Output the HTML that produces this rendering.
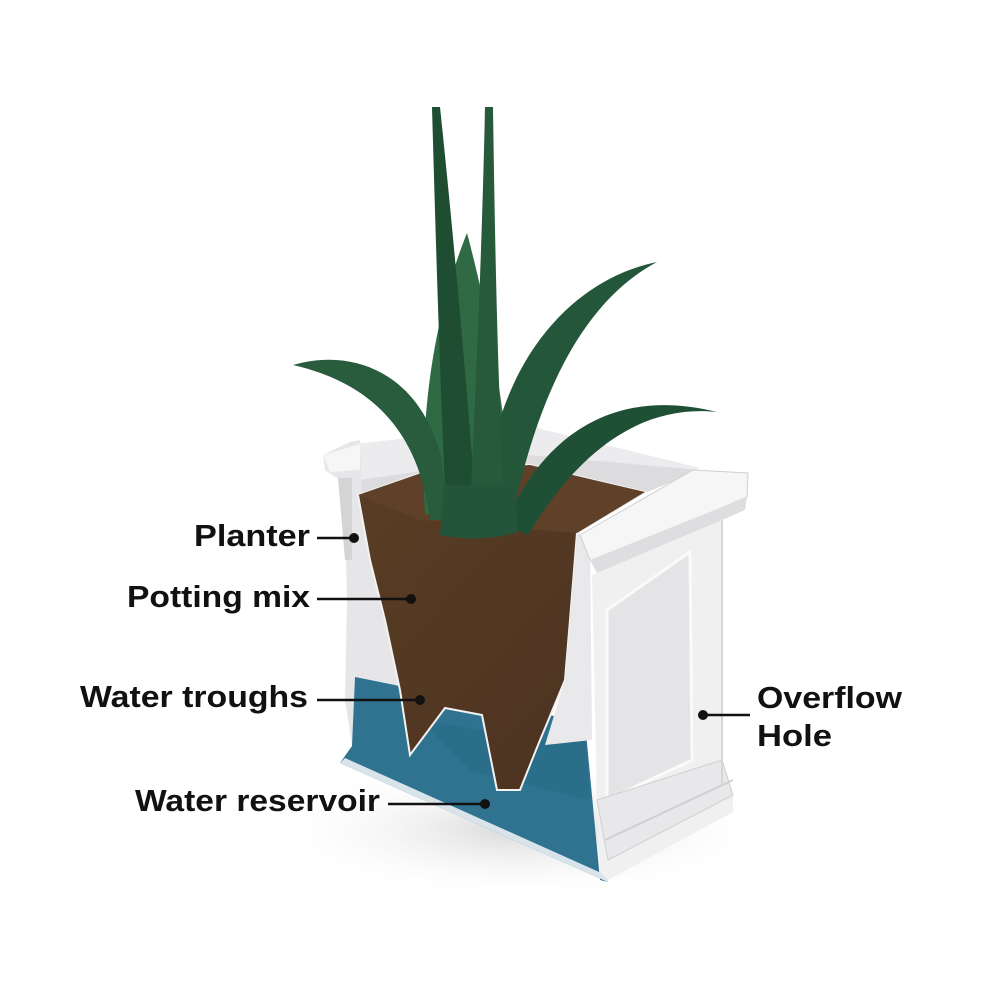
<!DOCTYPE html>
<html><head><meta charset="utf-8"><style>
html,body{margin:0;padding:0;background:#fff;}
svg{display:block}
text{font-family:"Liberation Sans",sans-serif;font-weight:bold;font-size:31px;fill:#111}
</style></head><body>
<svg width="1000" height="1000" viewBox="0 0 1000 1000" xmlns="http://www.w3.org/2000/svg">
<defs>
<linearGradient id="soil" x1="0" y1="0" x2="1" y2="1"><stop offset="0" stop-color="#5a3d24"/><stop offset="1" stop-color="#4a3220"/></linearGradient>
<radialGradient id="shadow" cx="0.5" cy="0.5" r="0.5"><stop offset="0" stop-color="#d8d8d8"/><stop offset="1" stop-color="#fff" stop-opacity="0"/></radialGradient>
</defs>
<ellipse cx="520" cy="830" rx="260" ry="70" fill="url(#shadow)"/>
<polygon points="345,445 525,425 700,468 645,492 530,468 360,495" fill="#ececee"/>
<polygon points="360,480 530,455 700,470 640,495 530,466 362,497" fill="#dcdcde"/>
<polygon points="323,455 350,442 360,440 362,498 372,560 385,620 400,680 352,745 345,700 347,600 345,520 340,480 325,470" fill="#e6e6e8"/>
<polygon points="323,455 360,444 360,470 330,472" fill="#f6f6f7"/>
<polygon points="338,478 352,478 352,560 345,560" fill="#d4d4d6"/>
<polygon points="355,677 420,690 585,722 600,880 608,882 340,763 352,746" fill="#2f7391"/>
<polygon points="340,763 608,882 608,876 345,758" fill="#d8e4ea"/>
<polygon points="420,720 540,740 585,730 590,800 470,770" fill="#2a6a86" opacity="0.6"/>
<polygon points="358,495 430,470 530,465 645,492 577,533 570,620 565,680 538,745 520,790 497,790 482,715 445,708 410,755 400,690 385,620 370,560" fill="url(#soil)" stroke="#f2f2f2" stroke-width="2"/>
<polygon points="358,495 430,470 530,465 645,492 577,533 420,520" fill="#5e4128"/>
<polygon points="577,533 590,540 592,740 545,745 565,680 570,620" fill="#e9e9eb"/>
<polygon points="580,535 693,470 748,473 747,497 600,560 590,560" fill="#f6f6f7" stroke="#d0d0d2" stroke-width="1"/>
<polygon points="590,560 747,497 745,510 598,575" fill="#dedee0"/>
<polygon points="592,575 722,520 722,785 733,795 733,812 608,880 600,872 597,800" fill="#f0f0f1"/>
<polygon points="607,610 690,552 692,760 607,800" fill="#e4e4e6" stroke="#fafafa" stroke-width="3"/>
<polygon points="597,800 722,760 733,795 608,860" fill="#e8e8ea" stroke="#cfcfd1" stroke-width="1"/>
<line x1="605" y1="840" x2="733" y2="780" stroke="#cfcfd1" stroke-width="2"/>
<line x1="722" y1="520" x2="722" y2="785" stroke="#d6d6d8" stroke-width="2"/>
<g fill="#24553a">
<path d="M425,515 C418,400 440,300 467,233 C485,300 505,400 510,490 Z" fill="#2f6a45"/>
<path d="M293,365 C350,348 420,370 442,460 L448,520 L430,520 C420,440 380,385 293,365 Z" fill="#285c3c"/>
<path d="M488,470 C505,360 570,280 657,262 C595,295 545,370 515,505 Z" fill="#245639"/>
<path d="M505,525 C540,440 610,385 717,412 C650,405 585,440 528,535 Z" fill="#1f4f34"/>
<path d="M432,107 L440,107 C455,250 468,400 476,510 L446,512 C440,380 436,250 432,107 Z" fill="#1e4d32"/>
<path d="M485,107 L493,107 C495,250 498,400 505,510 L470,512 C476,380 482,250 485,107 Z" fill="#27593b"/>
<path d="M440,535 L444,485 L515,485 L518,532 C490,540 465,540 440,535 Z"/>
</g>
<g stroke="#111" stroke-width="2.5">
<line x1="317" y1="538" x2="352" y2="538"/>
<line x1="317" y1="599" x2="408" y2="599"/>
<line x1="317" y1="700" x2="418" y2="700"/>
<line x1="388" y1="804" x2="483" y2="804"/>
<line x1="705" y1="715" x2="750" y2="715"/>
</g>
<g fill="#111">
<circle cx="354" cy="538" r="5"/><circle cx="411" cy="599" r="5"/><circle cx="420" cy="700" r="5"/><circle cx="485" cy="804" r="5"/><circle cx="703" cy="715" r="5"/>
</g>
<text x="194" y="546" textLength="116" lengthAdjust="spacingAndGlyphs">Planter</text>
<text x="127" y="607" textLength="183" lengthAdjust="spacingAndGlyphs">Potting mix</text>
<text x="80" y="707" textLength="228" lengthAdjust="spacingAndGlyphs">Water troughs</text>
<text x="135" y="811" textLength="245" lengthAdjust="spacingAndGlyphs">Water reservoir</text>
<text x="757" y="708" textLength="145" lengthAdjust="spacingAndGlyphs">Overflow</text>
<text x="757" y="746" textLength="75" lengthAdjust="spacingAndGlyphs">Hole</text>
</svg>
</body></html>
